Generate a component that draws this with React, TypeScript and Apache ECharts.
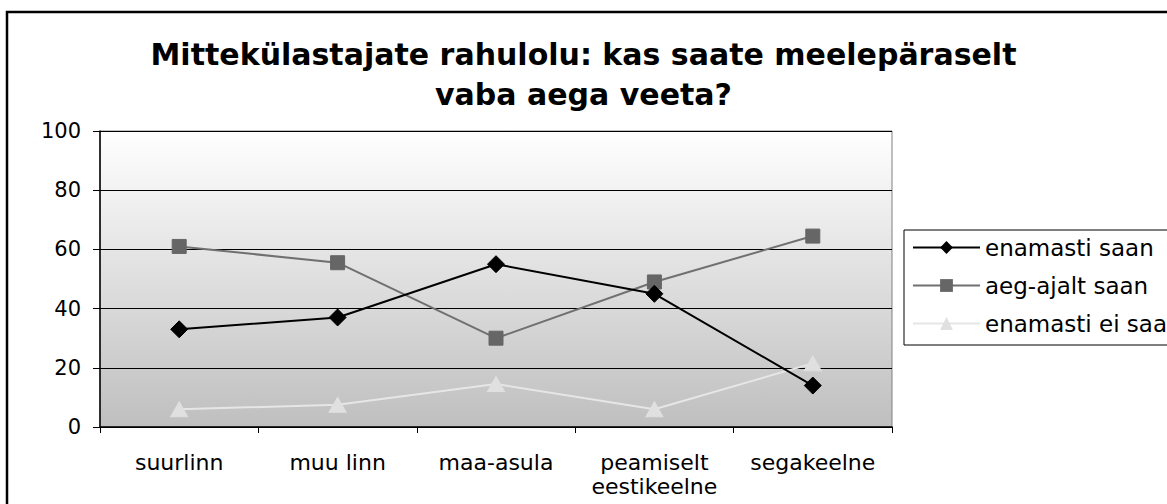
import React, { useEffect, useRef } from "react";
import * as echarts from "echarts";

const categories = ["suurlinn", "muu linn", "maa-asula", "peamiselt\neestikeelne", "segakeelne"];
const enamastiSaan = [33, 37, 55, 45, 14];
const aegAjaltSaan = [61, 55.5, 30, 49, 64.5];
const enamastiEiSaa = [6, 7.5, 14.5, 6, 21.5];
const yTicks = { min: 0, max: 100, interval: 20 };
const titleText = "Mittekülastajate rahulolu: kas saate meelepäraselt\nvaba aega veeta?";
const seriesNames = ["enamasti saan", "aeg-ajalt saan", "enamasti ei saa"];

const FONT = "DejaVu Sans";

export default function App() {
  const ref = useRef<HTMLDivElement>(null);
  useEffect(() => {
    document.body.style.margin = "0";
    const chart = echarts.init(ref.current!, null, { renderer: "svg" });
    chart.setOption({
      animation: false,
      backgroundColor: "#ffffff",
      textStyle: { fontFamily: FONT, color: "#000" },
      title: {
        text: titleText,
        left: "center",
        top: 29,
        textStyle: {
          fontFamily: FONT,
          fontWeight: "bold",
          fontSize: 30,
          lineHeight: 40,
          color: "#000",
        },
      },
      graphic: [
        {
          type: "rect",
          shape: { x: 7, y: 12, width: 1300, height: 700 },
          style: { fill: "none", stroke: "#000", lineWidth: 2.5 },
          z: 100,
        },
      ],
      legend: {
        orient: "vertical",
        left: 904,
        top: 230,
        padding: [6, 300, 10, 8],
        itemGap: 15,
        itemWidth: 67,
        itemHeight: 16,
        borderColor: "#000",
        borderWidth: 1,
        backgroundColor: "#fff",
        textStyle: { fontFamily: FONT, fontSize: 23, lineHeight: 22, color: "#000" },
        data: seriesNames,
      },
      grid: {
        left: 100,
        top: 131,
        right: 275,
        bottom: 77,
        show: true,
        borderColor: "#808080",
        borderWidth: 1,
        backgroundColor: {
          type: "linear",
          x: 0,
          y: 0,
          x2: 0,
          y2: 1,
          colorStops: [
            { offset: 0, color: "#ffffff" },
            { offset: 1, color: "#bfbfbf" },
          ],
        },
      },
      xAxis: {
        type: "category",
        data: categories,
        boundaryGap: true,
        axisLine: { lineStyle: { color: "#000", width: 1.5 } },
        axisTick: { show: true, length: 6, inside: false, lineStyle: { color: "#000" } },
        axisLabel: {
          fontFamily: FONT,
          fontSize: 22,
          lineHeight: 24,
          color: "#000",
          margin: 23,
          interval: 0,
        },
        splitLine: { show: false },
      },
      yAxis: {
        type: "value",
        min: yTicks.min,
        max: yTicks.max,
        interval: yTicks.interval,
        axisLine: { show: true, lineStyle: { color: "#000", width: 1.5 } },
        axisTick: { show: true, length: 7, lineStyle: { color: "#000" } },
        axisLabel: { fontFamily: FONT, fontSize: 21, color: "#000", margin: 19 },
        splitLine: { show: true, lineStyle: { color: "#000", width: 1 } },
      },
      series: [
        {
          name: seriesNames[0],
          type: "line",
          data: enamastiSaan,
          symbol: "diamond",
          symbolSize: 17,
          lineStyle: { color: "#000", width: 2 },
          itemStyle: { color: "#000", borderColor: "#000" },
          z: 5,
        },
        {
          name: seriesNames[1],
          type: "line",
          data: aegAjaltSaan,
          symbol: "rect",
          symbolSize: 14,
          lineStyle: { color: "#707070", width: 2 },
          itemStyle: { color: "#666666", borderColor: "#666666" },
          z: 4,
        },
        {
          name: seriesNames[2],
          type: "line",
          data: enamastiEiSaa,
          symbol: "triangle",
          symbolSize: [17, 15],
          lineStyle: { color: "#e6e6e6", width: 2 },
          itemStyle: { color: "#e0e0e0", borderColor: "#e0e0e0" },
          z: 3,
        },
      ],
    });
    return () => chart.dispose();
  }, []);
  return <div ref={ref} style={{ width: 1167, height: 504 }} />;
}
